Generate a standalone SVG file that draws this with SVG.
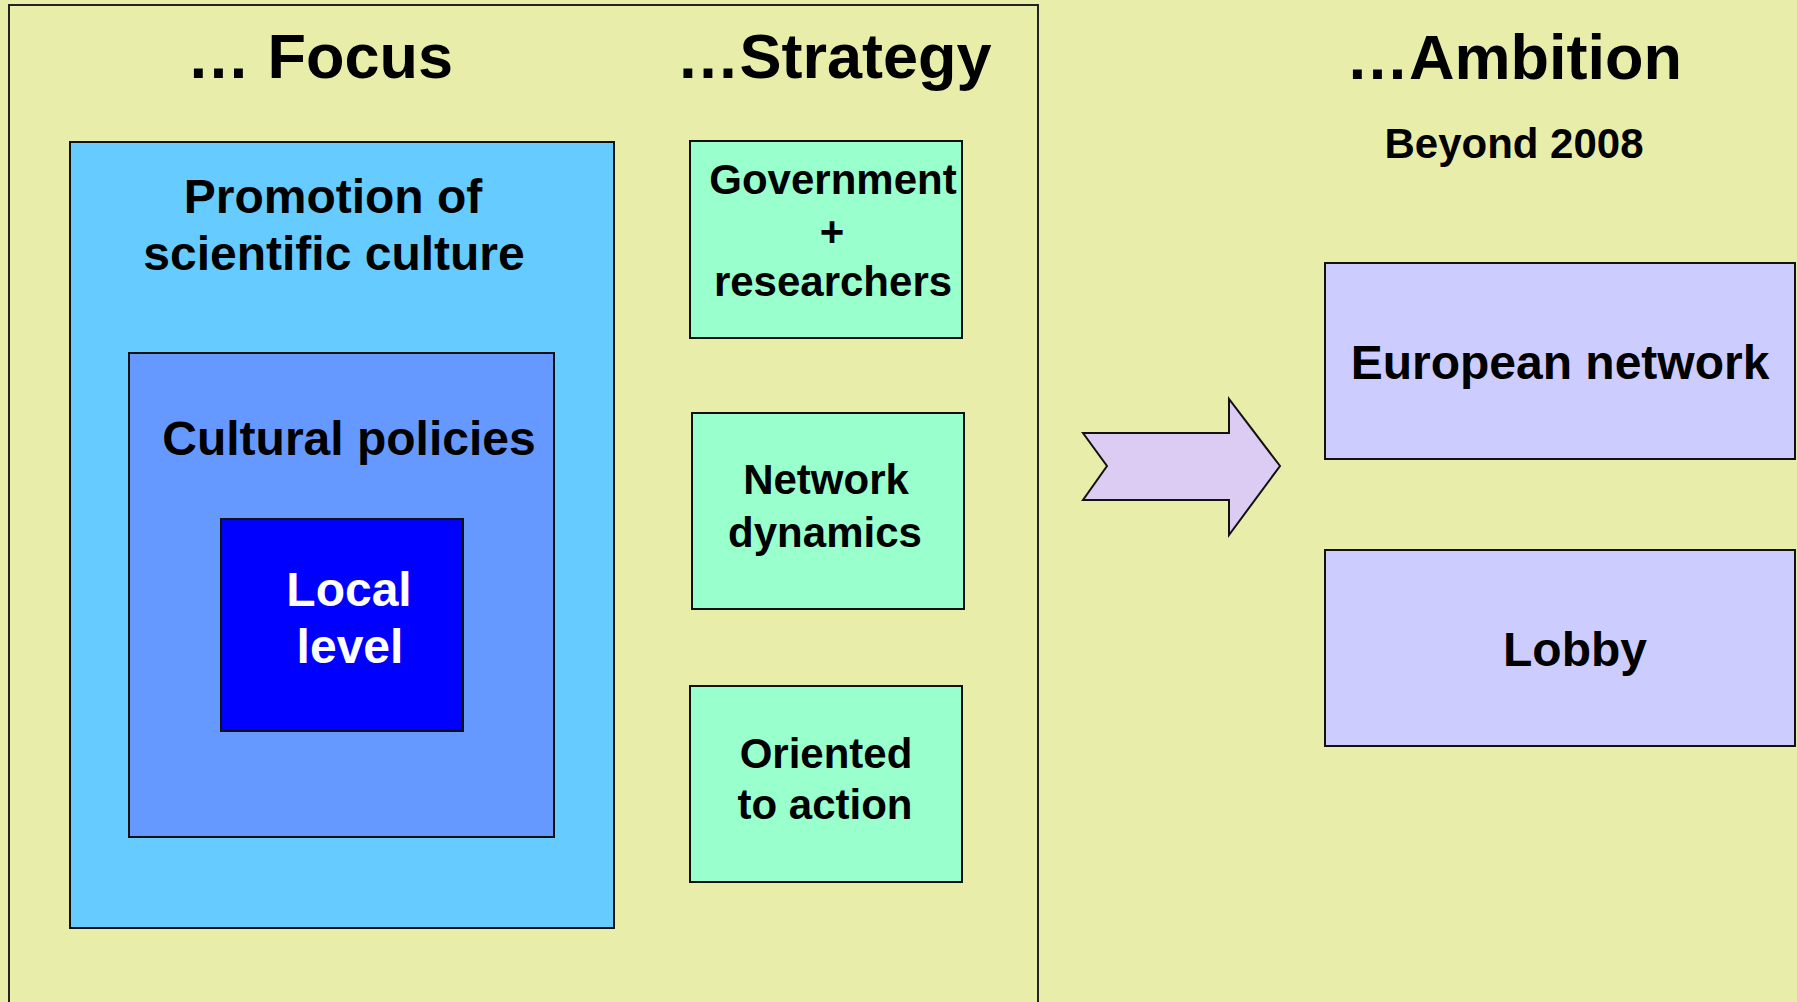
<svg xmlns="http://www.w3.org/2000/svg" width="1797" height="1002" viewBox="0 0 1797 1002">
<style>
text{font-family:"Liberation Sans",Arial,sans-serif;font-weight:bold;text-anchor:middle;fill:#000}
.t{font-size:63px}
.m{font-size:48px}
.s{font-size:42px}
.w{fill:#fff}
.box{stroke:#111;stroke-width:2}
</style>
<rect x="0" y="0" width="1797" height="1002" fill="#E8EEAA"/>
<rect x="9" y="5" width="1029" height="1010" fill="none" stroke="#222" stroke-width="2"/>
<g id="titles">
<text class="t" x="320" y="78">… Focus</text>
<text class="t" x="834" y="78">…Strategy</text>
<text class="t" x="1514" y="79">…Ambition</text>
<text class="s" x="1514" y="158">Beyond 2008</text>
</g>
<g id="promotion">
<rect class="box" x="70" y="142" width="544" height="786" fill="#66CCFF"/>
<text class="m" x="333" y="213">Promotion of</text>
<text class="m" x="334" y="270">scientific culture</text>
</g>
<g id="cultural">
<rect class="box" x="129" y="353" width="425" height="484" fill="#6699FF"/>
<text class="m" x="349" y="455">Cultural policies</text>
</g>
<g id="local">
<rect class="box" x="221" y="519" width="242" height="212" fill="#0000FF"/>
<text class="m w" x="349" y="606">Local</text>
<text class="m w" x="350" y="663">level</text>
</g>
<g id="government">
<rect class="box" x="690" y="141" width="272" height="197" fill="#99FFCC"/>
<text class="s" x="833" y="194">Government</text>
<text class="s" x="832" y="246">+</text>
<text class="s" x="833" y="296">researchers</text>
</g>
<g id="network">
<rect class="box" x="692" y="413" width="272" height="196" fill="#99FFCC"/>
<text class="s" x="826" y="494">Network</text>
<text class="s" x="825" y="547">dynamics</text>
</g>
<g id="oriented">
<rect class="box" x="690" y="686" width="272" height="196" fill="#99FFCC"/>
<text class="s" x="826" y="768">Oriented</text>
<text class="s" x="825" y="819">to action</text>
</g>
<g id="connectors">
<polygon points="1083,433 1229,433 1229,399 1280,466 1229,535 1229,500 1083,500 1107,466" fill="#DCCBF2" stroke="#111" stroke-width="2"/>
</g>
<g id="european">
<rect class="box" x="1325" y="263" width="470" height="196" fill="#CCCCFF"/>
<text class="m" x="1560" y="379">European network</text>
</g>
<g id="lobby">
<rect class="box" x="1325" y="550" width="470" height="196" fill="#CCCCFF"/>
<text class="m" x="1575" y="666">Lobby</text>
</g>
</svg>
